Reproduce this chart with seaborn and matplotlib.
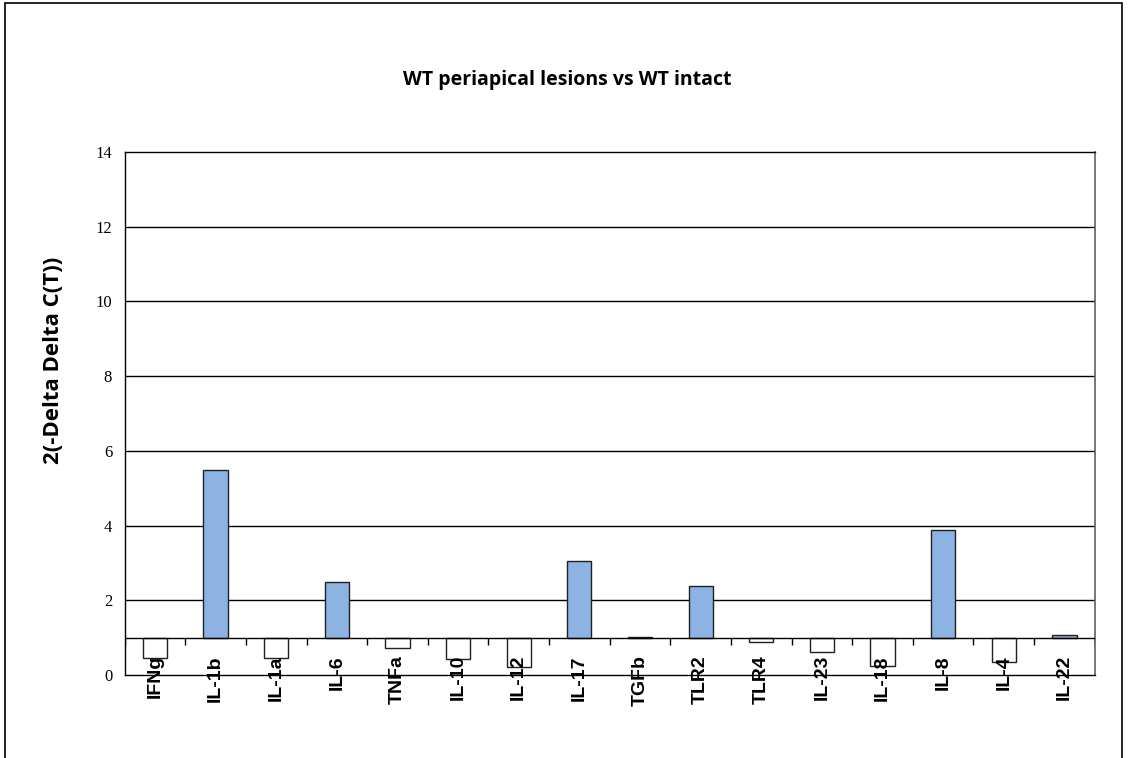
import numpy as np
import pandas as pd
import matplotlib
matplotlib.use("Agg")
import matplotlib.pyplot as plt
import seaborn as sns
from matplotlib.patches import Rectangle

# --- Data ---
genes = ["IFNg", "IL-1b", "IL-1a", "IL-6", "TNFa", "IL-10", "IL-12", "IL-17",
         "TGFb", "TLR2", "TLR4", "IL-23", "IL-18", "IL-8", "IL-4", "IL-22"]
fold_change = [0.46, 5.50, 0.46, 2.50, 0.72, 0.42, 0.21, 3.04,
               1.03, 2.37, 0.89, 0.61, 0.25, 3.89, 0.36, 1.06]
baseline = 1.0
y_ticks = [0, 2, 4, 6, 8, 10, 12, 14]

df = pd.DataFrame({"gene": genes, "value": fold_change})
df["delta"] = df["value"] - baseline
df["direction"] = np.where(df["value"] >= baseline, "up", "down")

# --- Figure ---
sns.set_style("white")
plt.rcParams["text.color"] = "black"
fig = plt.figure(figsize=(11.28, 7.58), dpi=100)
ax = fig.add_axes([0.1105, 0.1095, 0.8600, 0.6900])

sns.barplot(data=df, x="gene", y="delta", hue="direction",
            palette={"up": "#8DB3E2", "down": "white"}, dodge=False,
            saturation=1, width=0.4, bottom=baseline, edgecolor="#202020",
            linewidth=1.0, legend=False, ax=ax, zorder=3)

ax.set_ylim(0, 14)
ax.set_xlim(-0.5, len(genes) - 0.5)
ax.set_yticks(y_ticks)
ax.set_yticklabels([str(t) for t in y_ticks], family="Liberation Serif",
                   fontsize=12, color="black")
ax.tick_params(axis="y", direction="out", length=5, width=1, color="black", pad=4)
ax.set_xticks([])
ax.set_xlabel("")
ax.set_ylabel("")

# gridlines
for t in y_ticks[1:-1]:
    ax.axhline(t, color="black", lw=1.0, zorder=1)

# category axis crossing at 1
ax.axhline(baseline, color="black", lw=1.0, zorder=4)
bounds = np.arange(len(genes) + 1) - 0.5
ax.vlines(bounds, baseline - 0.19, baseline, color="black", lw=1.0, zorder=4)

for side in ["left", "bottom", "top"]:
    ax.spines[side].set_color("black")
    ax.spines[side].set_linewidth(1.0)
ax.spines["right"].set_color("#606060")
ax.spines["right"].set_linewidth(1.2)

# category labels
for i, g in enumerate(genes):
    ax.text(i, 0.038, g, transform=ax.get_xaxis_transform(), rotation=90,
            ha="center", va="top", fontsize=14, fontweight="bold",
            family="Liberation Sans", color="black", zorder=5)

# --- Title / axis label ---
fig.text(0.503, 0.895, "WT periapical lesions vs WT intact", ha="center",
         va="center", fontsize=14, fontweight="bold", family="Open Sans",
         color="black")
fig.text(0.047, 0.525, "2(-Delta Delta C(T))", rotation=90, ha="center",
         va="center", fontsize=16, fontweight="bold", family="Open Sans",
         color="black")

# outer frame
fig.patches.append(Rectangle((0.004, -0.05), 0.991, 1.046, transform=fig.transFigure,
                             fill=False, edgecolor="black", lw=1.2))

plt.savefig("out.png", dpi=100)
plt.close()
